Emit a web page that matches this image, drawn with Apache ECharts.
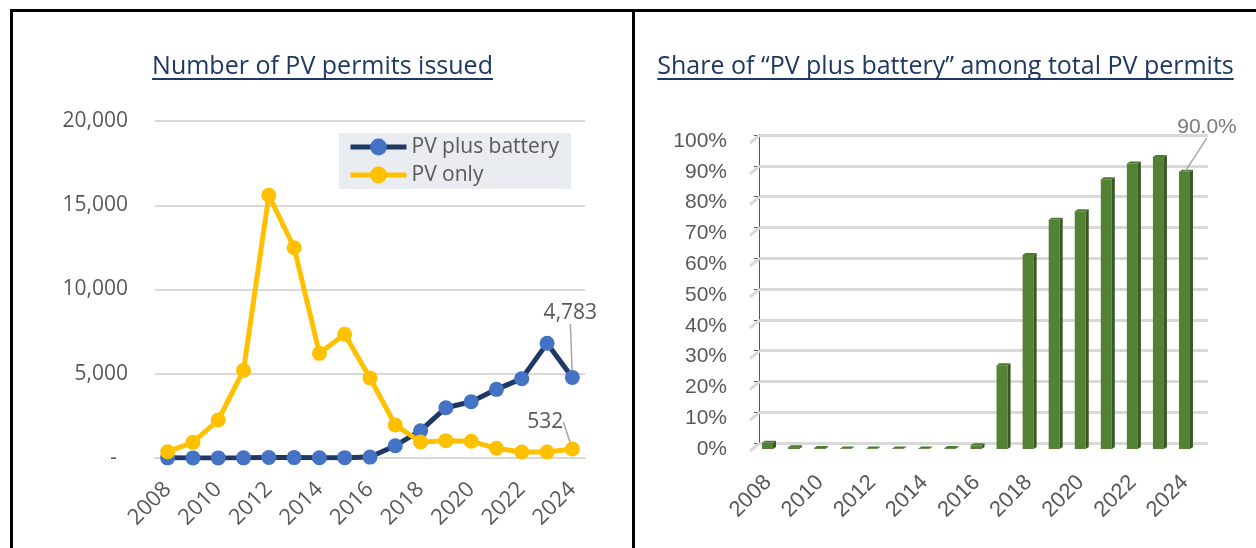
<!DOCTYPE html>
<html>
<head>
<meta charset="utf-8">
<script src="https://cdn.jsdelivr.net/npm/echarts@6/dist/echarts.min.js"></script>
<style>
  body { margin: 0; background: #fff; }
  #permits { position: absolute; left: 10px; top: 9px; width: 619px; height: 536px; border: 3px solid #000; border-bottom: none; }
  #share { position: absolute; left: 635px; top: 9px; width: 621px; height: 536px; border-top: 3px solid #000; }
</style>
</head>
<body>
<div id="permits"></div>
<div id="share"></div>
<script>
// values
var years = ['2008', '2009', '2010', '2011', '2012', '2013', '2014', '2015', '2016',
             '2017', '2018', '2019', '2020', '2021', '2022', '2023', '2024'];
var pvBattery = [8, 5, 6, 10, 30, 25, 12, 20, 55, 730, 1620, 2985, 3340, 4075, 4710, 6805, 4783];
var pvOnly = [375, 930, 2255, 5200, 15590, 12480, 6210, 7340, 4750, 1960, 950, 1030, 990, 575, 355, 355, 532];
var shareBattery = [2.0, 0.6, 0.3, 0.2, 0.2, 0.2, 0.2, 0.3, 1.2, 27.2, 63.0, 74.4, 77.2, 87.6, 92.7, 94.8, 90.0];
var shareTicks = [0, 10, 20, 30, 40, 50, 60, 70, 80, 90, 100];

var titleFont = 'Open Sans';
var navy = '#1F3864';
var gray = '#595959';

function textWidth(text, font) {
    var ctx = document.createElement('canvas').getContext('2d');
    ctx.font = font;
    return ctx.measureText(text).width;
}

function lastLabelled(values) {
    return values.map(function (v, i) {
        if (i !== values.length - 1) return v;
        return { value: v, label: { show: true }, labelLine: { show: true } };
    });
}

// ---- left: number of permits ----
var title1 = 'Number of PV permits issued';
var chart1 = echarts.init(document.getElementById('permits'));
chart1.setOption({
    animation: false,
    title: {
        text: title1,
        left: 'center',
        top: 37,
        textStyle: { fontFamily: titleFont, fontSize: 25, fontWeight: 'normal', color: navy }
    },
    graphic: [{
        type: 'rect',
        left: 'center',
        top: 66,
        shape: { width: textWidth(title1, '25px "Open Sans"'), height: 2 },
        style: { fill: navy }
    }],
    legend: {
        orient: 'vertical',
        left: 326,
        top: 121,
        backgroundColor: '#E9ECF1',
        padding: [0, 12, 0, 9],
        itemGap: 0,
        itemWidth: 56,
        itemHeight: 21,
        lineStyle: { width: 5 },
        textStyle: { fontFamily: 'Open Sans', fontSize: 21, color: gray, lineHeight: 28 },
        data: ['PV plus battery', 'PV only']
    },
    grid: { left: 142, right: 47, top: 109, bottom: 90 },
    xAxis: {
        type: 'category',
        data: years,
        axisLine: { lineStyle: { color: '#D9D9D9', width: 2 } },
        axisTick: { show: false },
        axisLabel: { interval: 1, rotate: 45, margin: 28, fontFamily: 'Open Sans', fontSize: 22, color: gray }
    },
    yAxis: {
        type: 'value',
        min: 0,
        max: 20000,
        interval: 5000,
        axisLabel: {
            margin: 27,
            fontFamily: 'Open Sans',
            fontSize: 21,
            color: gray,
            formatter: function (v) { return v === 0 ? '-  ' : v.toLocaleString('en-US'); }
        },
        splitLine: { lineStyle: { color: '#D9D9D9', width: 2 } }
    },
    series: [
        {
            name: 'PV plus battery',
            type: 'line',
            data: lastLabelled(pvBattery),
            symbol: 'circle',
            symbolSize: 15,
            lineStyle: { color: '#203864', width: 5 },
            itemStyle: { color: '#4472C4' },
            label: {
                show: false,
                fontFamily: 'Open Sans',
                fontSize: 21,
                color: gray,
                formatter: function (p) { return p.value.toLocaleString('en-US'); }
            },
            labelLine: { lineStyle: { color: '#A6A6A6', width: 1.5 } },
            labelLayout: function (p) {
                if (p.dataIndex === pvBattery.length - 1) return { dx: -2, dy: -41 };
            }
        },
        {
            name: 'PV only',
            type: 'line',
            data: lastLabelled(pvOnly),
            symbol: 'circle',
            symbolSize: 15,
            lineStyle: { color: '#FFC000', width: 5 },
            itemStyle: { color: '#FFC000' },
            label: {
                show: false,
                fontFamily: 'Open Sans',
                fontSize: 21,
                color: gray,
                formatter: function (p) { return p.value.toLocaleString('en-US'); }
            },
            labelLine: { lineStyle: { color: '#A6A6A6', width: 1.5 } },
            labelLayout: function (p) {
                if (p.dataIndex === pvOnly.length - 1) return { dx: -27, dy: -4 };
            }
        }
    ]
});

// ---- right: share of PV plus battery ----
var title2 = 'Share of \u201cPV plus battery\u201d among total PV permits';
var chart2 = echarts.init(document.getElementById('share'));
chart2.setOption({
    animation: false,
    title: {
        text: title2,
        left: 'center',
        top: 37,
        textStyle: { fontFamily: titleFont, fontSize: 25, fontWeight: 'normal', color: navy }
    },
    graphic: [{
        type: 'rect',
        left: 'center',
        top: 66,
        shape: { width: textWidth(title2, '25px "Open Sans"'), height: 2 },
        style: { fill: navy }
    }],
    grid: [
        { left: 120, right: 58, top: 129, bottom: 99 },   // front: bars and labels
        { left: 124, right: 48, top: 123, bottom: 105 }    // back wall: gridlines
    ],
    xAxis: [
        {
            type: 'category',
            gridIndex: 0,
            data: years,
            axisLine: { show: false },
            axisTick: { show: false },
            axisLabel: { interval: 1, rotate: 45, margin: 30, fontFamily: 'Liberation Sans', fontSize: 22, color: gray }
        },
        { type: 'value', gridIndex: 1, min: 0, max: 1, show: false }
    ],
    yAxis: [
        {
            type: 'value',
            gridIndex: 0,
            min: 0,
            max: 100,
            interval: 10,
            axisLabel: { margin: 28, fontFamily: 'Liberation Sans', fontSize: 21, color: gray, formatter: '{value}%' },
            splitLine: { show: false }
        },
        {
            type: 'value',
            gridIndex: 1,
            min: 0,
            max: 100,
            interval: 10,
            axisLabel: { show: false },
            splitLine: { lineStyle: { color: '#D9D9D9', width: 3 } }
        }
    ],
    series: [
        {
            type: 'custom',
            xAxisIndex: 1,
            yAxisIndex: 1,
            silent: true,
            data: shareTicks.map(function (t) { return [0, t]; }),
            renderItem: function (params, api) {
                var p = api.coord([0, api.value(1)]);
                return {
                    type: 'line',
                    shape: { x1: p[0] - 9, y1: p[1] + 8, x2: p[0] + 1, y2: p[1] },
                    style: { stroke: '#D9D9D9', lineWidth: 3 }
                };
            }
        },
        {
            type: 'custom',
            xAxisIndex: 0,
            yAxisIndex: 0,
            data: shareBattery.map(function (v, i) { return [i, v]; }),
            renderItem: function (params, api) {
                var top = api.coord([api.value(0), api.value(1)]);
                var base = api.coord([api.value(0), 0]);
                var l = top[0] - 6, r = top[0] + 5, d = 3, h = 2;
                return {
                    type: 'group',
                    children: [
                        { type: 'rect', shape: { x: l, y: top[1], width: r - l, height: base[1] - top[1] }, style: { fill: '#548235' } },
                        { type: 'polygon', shape: { points: [[r, top[1]], [r + d, top[1] - h], [r + d, base[1] - h], [r, base[1]]] }, style: { fill: '#385723' } },
                        { type: 'polygon', shape: { points: [[l, top[1]], [l + d, top[1] - h], [r + d, top[1] - h], [r, top[1]]] }, style: { fill: '#4A7A2C' } }
                    ]
                };
            }
        },
        {
            type: 'scatter',
            xAxisIndex: 0,
            yAxisIndex: 0,
            symbolSize: 2,
            itemStyle: { color: 'rgba(0,0,0,0)' },
            data: [[shareBattery.length - 1, shareBattery[shareBattery.length - 1]]],
            label: {
                show: true,
                position: 'top',
                fontFamily: 'Liberation Sans',
                fontSize: 21,
                color: gray,
                formatter: function (p) { return p.value[1].toFixed(1) + '%'; }
            },
            labelLine: { show: true, lineStyle: { color: '#A6A6A6', width: 1.5 } },
            labelLayout: { dx: 22, dy: -28 }
        }
    ]
});
</script>
</body>
</html>
